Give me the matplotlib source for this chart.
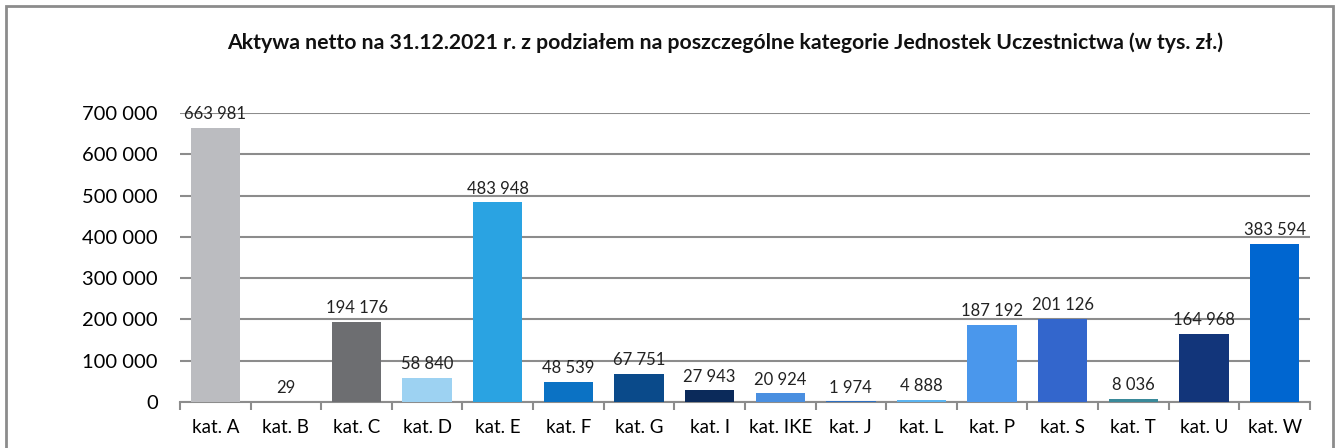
import matplotlib.pyplot as plt
from matplotlib.patches import Rectangle

categories = ["kat. A", "kat. B", "kat. C", "kat. D", "kat. E", "kat. F", "kat. G", "kat. I",
              "kat. IKE", "kat. J", "kat. L", "kat. P", "kat. S", "kat. T", "kat. U", "kat. W"]
values = [663981, 29, 194176, 58840, 483948, 48539, 67751, 27943,
          20924, 1974, 4888, 187192, 201126, 8036, 164968, 383594]
colors = ["#BBBCC0", "#8FAADC", "#6D6E71", "#9DD2F2", "#2AA3E2", "#0B72C4", "#0A4A8A", "#0B2A5A",
          "#4A8FE0", "#2E6FC0", "#5BB4F0", "#4A97EC", "#3366CC", "#3A8A9A", "#12357A", "#0066D0"]
yticks = [0, 100000, 200000, 300000, 400000, 500000, 600000, 700000]

plt.rcParams['font.family'] = ['Lato', 'DejaVu Sans']

fig = plt.figure(figsize=(13.38, 4.48), dpi=100)
ax = fig.add_axes([0.1345, 0.1027, 0.979 - 0.1345, 0.7478 - 0.1027])

x = list(range(len(categories)))
ax.bar(x, values, width=0.7, color=colors, zorder=3)

def fmt(v):
    return f"{v:,}".replace(",", " ")

for xi, v in zip(x, values):
    ax.annotate(fmt(v), (xi, v), xytext=(0, 4), textcoords="offset points",
                ha="center", va="bottom", fontsize=12, color="#222222")

ax.set_xlim(-0.5, len(categories) - 0.5)
ax.set_ylim(0, 700000)
ax.set_yticks(yticks)
ax.set_yticklabels([fmt(t) for t in yticks], fontsize=14.5)
ax.yaxis.grid(True, color="#8C8C8C", linewidth=1.5, zorder=0)
ax.tick_params(axis="y", length=0, pad=16)

ax.set_xticks(x)
ax.set_xticklabels(categories, fontsize=13.5)
ax.tick_params(axis="x", length=0, pad=12)
ax.set_xticks([i - 0.5 for i in range(len(categories) + 1)], minor=True)
ax.tick_params(axis="x", which="minor", length=6, width=1.5, color="#8C8C8C", direction="out")

for s in ["top", "right", "left"]:
    ax.spines[s].set_visible(False)
ax.spines["bottom"].set_color("#8C8C8C")
ax.spines["bottom"].set_linewidth(1.5)

fig.text(0.542, 0.905, "Aktywa netto na 31.12.2021 r. z podziałem na poszczególne kategorie Jednostek Uczestnictwa (w tys. zł.)",
         ha="center", va="center", fontsize=15.3, fontweight="bold", color="#111111")

fig.patches.append(Rectangle((6 / 1338, -0.1), (1333 - 6) / 1338, 1 - 6 / 448 + 0.1,
                             transform=fig.transFigure, fill=False, edgecolor="#8C8C8C",
                             linewidth=2, zorder=10))

fig.savefig("out.png", dpi=100)
